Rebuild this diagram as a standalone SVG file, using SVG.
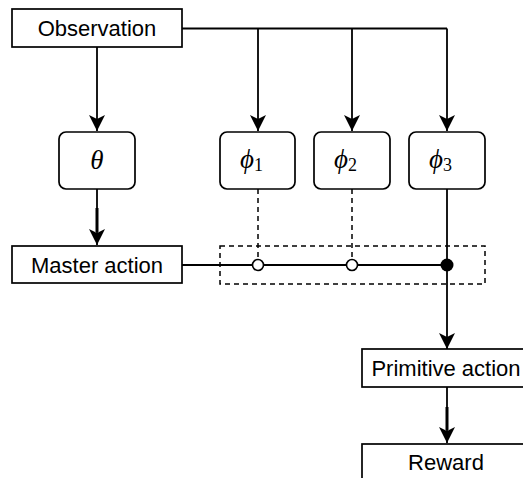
<svg xmlns="http://www.w3.org/2000/svg" width="523" height="478" viewBox="0 0 523 478">
  <style>
    .box { fill: #ffffff; stroke: #000000; stroke-width: 1.7; }
    .lbl { font-family: "Liberation Sans", Arial, Helvetica, sans-serif; font-size: 22px; fill: #000000; text-anchor: middle; }
    .math { font-family: "Liberation Serif", "DejaVu Serif", serif; font-style: italic; font-size: 27px; fill: #000000; }
    .sub { font-family: "Liberation Serif", "DejaVu Serif", serif; font-style: normal; font-size: 18px; }
    .wire { fill: none; stroke: #000000; stroke-width: 1.8; }
    .dash { fill: none; stroke: #000000; stroke-width: 1.5; stroke-dasharray: 5 4; }
  </style>
  <defs>
    <marker id="arrow" markerUnits="userSpaceOnUse" markerWidth="18" markerHeight="18" viewBox="-17 -9 18 18" refX="0" refY="0" orient="auto">
      <path d="M0,0 L-16,-8 L-12,0 L-16,8 Z" fill="#000000"/>
    </marker>
  </defs>

  <rect width="523" height="478" fill="#ffffff"/>

  <!-- connectors -->
  <g id="connectors">
    <!-- observation fan-out -->
    <path class="wire" d="M182,28.5 H447"/>
    <path class="wire" d="M97,47 V131" marker-end="url(#arrow)"/>
    <path class="wire" d="M258,28.5 V131" marker-end="url(#arrow)"/>
    <path class="wire" d="M352,28.5 V131" marker-end="url(#arrow)"/>
    <path class="wire" d="M447,28.5 V131" marker-end="url(#arrow)"/>
    <!-- theta to master action -->
    <path class="wire" d="M97,189 V245" marker-end="url(#arrow)"/>
    <path fill="none" stroke="#000" stroke-width="3" d="M97,208 V232"/>
    <!-- selector bus -->
    <path class="wire" d="M182,265 H447"/>
    <rect class="dash" x="220" y="246" width="265" height="38"/>
    <path class="dash" d="M258,189 V259"/>
    <path class="dash" d="M352,189 V259"/>
    <circle cx="258" cy="265" r="5.5" fill="#ffffff" stroke="#000" stroke-width="1.6"/>
    <circle cx="352" cy="265" r="5.5" fill="#ffffff" stroke="#000" stroke-width="1.6"/>
    <circle cx="447" cy="265" r="6.5" fill="#000000"/>
    <!-- phi3 to primitive action -->
    <path class="wire" d="M447,189 V349" marker-end="url(#arrow)"/>
    <!-- primitive action to reward -->
    <path class="wire" d="M447,387 V443" marker-end="url(#arrow)"/>
    <path fill="none" stroke="#000" stroke-width="3" d="M447,407 V430"/>
  </g>

  <g id="observation">
    <rect class="box" x="12" y="9" width="170" height="38"/>
    <text class="lbl" x="97" y="36">Observation</text>
  </g>

  <g id="theta">
    <rect class="box" x="59" y="132" width="76" height="57" rx="7"/>
    <text class="math" x="97" y="169" text-anchor="middle">θ</text>
  </g>

  <g id="phi1">
    <rect class="box" x="220" y="132" width="75" height="57" rx="7"/>
    <text class="math" x="240" y="168">ϕ<tspan class="sub" dy="3">1</tspan></text>
  </g>

  <g id="phi2">
    <rect class="box" x="314" y="132" width="76" height="57" rx="7"/>
    <text class="math" x="334" y="168">ϕ<tspan class="sub" dy="3">2</tspan></text>
  </g>

  <g id="phi3">
    <rect class="box" x="409" y="132" width="76" height="57" rx="7"/>
    <text class="math" x="429" y="168">ϕ<tspan class="sub" dy="3">3</tspan></text>
  </g>

  <g id="master-action">
    <rect class="box" x="12" y="246" width="170" height="37"/>
    <text class="lbl" x="97" y="273">Master action</text>
  </g>

  <g id="primitive-action">
    <rect class="box" x="362" y="349" width="170" height="38"/>
    <text class="lbl" x="446" y="376">Primitive action</text>
  </g>

  <g id="reward">
    <rect class="box" x="362" y="444" width="170" height="40"/>
    <text class="lbl" x="446" y="470">Reward</text>
  </g>
</svg>
